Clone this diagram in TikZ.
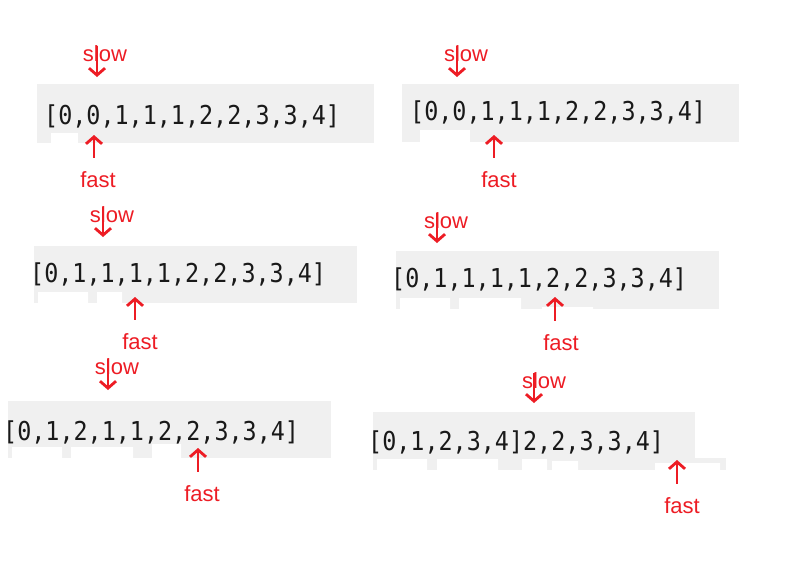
\documentclass[tikz,border=0pt]{standalone}
\usepackage{fontspec}
\setmainfont{Liberation Sans}
\newfontfamily\arrayfont[FakeStretch=0.9]{DejaVu Sans Mono}
\usetikzlibrary{arrows.meta}
\definecolor{markred}{RGB}{237,28,36}
\definecolor{shotgray}{RGB}{240,240,240}
\definecolor{codeink}{RGB}{25,25,25}
\tikzset{arr/.style={anchor=base west,inner sep=0pt,text=codeink,
  font=\arrayfont\fontsize{26}{28}\selectfont},
 tag/.style={inner sep=0pt,text=markred,font=\fontsize{22}{24}\selectfont},
 ptr/.style={markred,line width=2.8pt,-{Straight Barb[length=7pt,width=16pt]}},
 shot/.style={fill=shotgray},cut/.style={fill=white}}

\begin{document}
\begin{tikzpicture}[x=1pt,y=-1pt]
\useasboundingbox (0,0) rectangle (800,587);
\fill[shot] (37,84) rectangle (374,143);
\fill[shot] (402,84) rectangle (739,142);
\fill[shot] (34,246) rectangle (357,303);
\fill[shot] (396,251) rectangle (719,309);
\fill[shot] (8,401) rectangle (331,458);
\fill[shot] (373,412) rectangle (695,470);
\fill[shot] (642,458) rectangle (726,470);
\fill[cut] (51,133) rectangle (78,143.5);
\fill[cut] (420,130) rectangle (470,142.5);
\fill[cut] (38,292) rectangle (88,303.5) (97,292) rectangle (122,303.5);
\fill[cut] (400,298) rectangle (450,309.5) (459,298) rectangle (521,309.5)
  (542,307) rectangle (593,309.5);
\fill[cut] (12,447) rectangle (62,458.5) (71,447) rectangle (133,458.5)
  (152,444) rectangle (181,458.5);
\fill[cut] (377,459) rectangle (427,470.5) (437,459) rectangle (498,470.5)
  (522,459) rectangle (547,470.5) (552,461) rectangle (578,470.5)
  (655,463) rectangle (720,470.5);
\node[arr] (a1) at (44,124) {[0,0,1,1,1,2,2,3,3,4]};
\node[arr] (a2) at (410,120) {[0,0,1,1,1,2,2,3,3,4]};
\node[arr] (a3) at (30,282) {[0,1,1,1,1,2,2,3,3,4]};
\node[arr] (a4) at (391,287) {[0,1,1,1,1,2,2,3,3,4]};
\node[arr] (a5) at (3,440) {[0,1,2,1,1,2,2,3,3,4]};
\node[arr] (a6) at (368,450) {[0,1,2,3,4]2,2,3,3,4]};
\node[tag] (s1) at (105,54) {slow};
\node[tag] (s2) at (466,54) {slow};
\node[tag] (s3) at (112,215) {slow};
\node[tag] (s4) at (446,221) {slow};
\node[tag] (s5) at (117,367) {slow};
\node[tag] (s6) at (544,381) {slow};
\node[tag] (f1) at (98,180) {fast};
\node[tag] (f2) at (499,180) {fast};
\node[tag] (f3) at (140,342) {fast};
\node[tag] (f4) at (561,343) {fast};
\node[tag] (f5) at (202,494) {fast};
\node[tag] (f6) at (682,506) {fast};
\coordinate (s1tip) at (97,77);
\coordinate (s2tip) at (457,77);
\coordinate (s3tip) at (103,237);
\coordinate (s4tip) at (437,243);
\coordinate (s5tip) at (108,390);
\coordinate (s6tip) at (534,403);
\coordinate (f1tip) at (94,135);
\coordinate (f2tip) at (494,135);
\coordinate (f3tip) at (135,297);
\coordinate (f4tip) at (555,297);
\coordinate (f5tip) at (198,448);
\coordinate (f6tip) at (677,460);
\foreach \i in {1,...,6}{
  \draw[ptr] (s\i.north -| s\i tip) -- (s\i tip);
  \draw[ptr] ([yshift=14pt]f\i.north -| f\i tip) -- (f\i tip);
}
\end{tikzpicture}
\end{document}
